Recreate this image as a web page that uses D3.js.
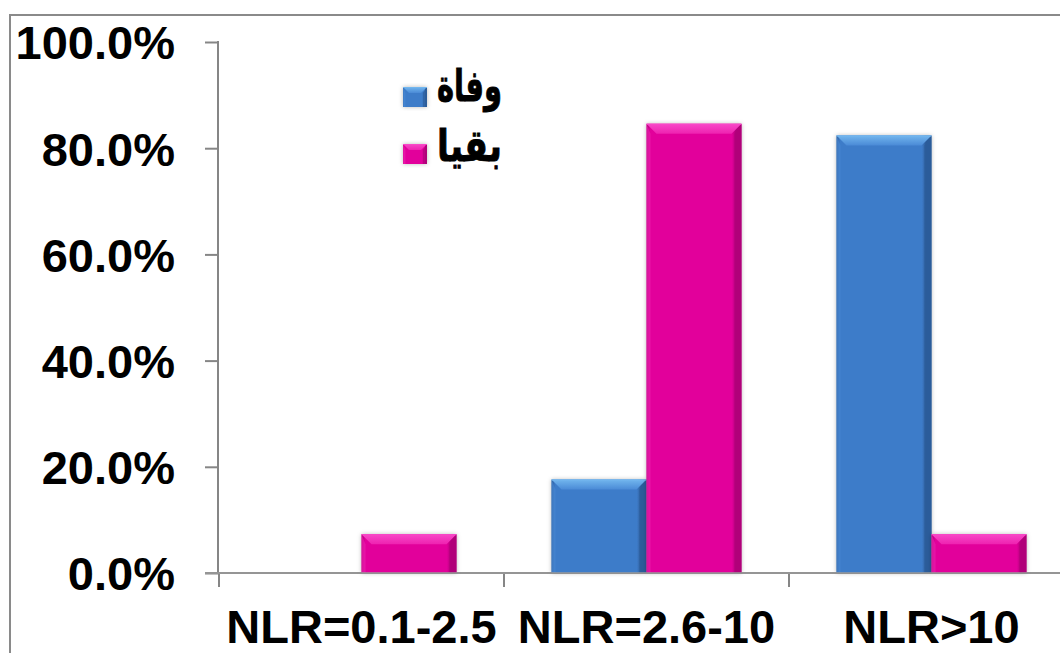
<!DOCTYPE html>
<html>
<head>
<meta charset="utf-8">
<script src="https://cdn.jsdelivr.net/npm/d3@7"></script>
<style>
  html, body { margin: 0; padding: 0; background: #fff; }
  svg { display: block; }
  .tick text { font-family: "Liberation Sans", Arial, sans-serif; font-weight: bold; fill: #000; }
</style>
</head>
<body>
<svg id="chart" width="1060" height="653"></svg>
<script>
// Outcome share by NLR group
const categories = ["NLR=0.1-2.5", "NLR=2.6-10", "NLR>10"];
const seriesNames = ["وفاة", "بقيا"];
const deathValues = [0, 17.6, 82.4];
const survivalValues = [7.3, 84.6, 7.3];
const yTicks = [0, 20, 40, 60, 80, 100];

const seriesColors = {
  "وفاة": { base: "#3E7CC9", light: "#72B6EE", dark: "#2C5C9A", edge: "#4A8AD6" },
  "بقيا": { base: "#E2069B", light: "#F848C8", dark: "#B0007A", edge: "#EE22B0" }
};

const svg = d3.select("#chart");

// Outer frame
svg.append("rect")
  .attr("x", 10).attr("y", 15)
  .attr("width", 1120).attr("height", 720)
  .attr("fill", "none")
  .attr("stroke", "#8a8a8a")
  .attr("stroke-width", 2);

const y = d3.scaleLinear().domain([0, 100]).range([573, 42]);
const x0 = d3.scaleBand().domain(categories).range([219, 1074]).padding(0);
const x1 = d3.scaleBand().domain(seriesNames)
  .range([x0.bandwidth() / 6, x0.bandwidth() * 5 / 6]).padding(0);

const defs = svg.append("defs");
const shadow = defs.append("filter").attr("id", "barShadow")
  .attr("x", "-20%").attr("y", "-20%").attr("width", "140%").attr("height", "140%");
shadow.append("feDropShadow")
  .attr("dx", 0).attr("dy", 0).attr("stdDeviation", 2.2)
  .attr("flood-color", "#000").attr("flood-opacity", 0.28);

// Gradients for the bevelled sides
seriesNames.forEach((s, i) => {
  const c = seriesColors[s];
  const g = defs.append("linearGradient").attr("id", "body" + i)
    .attr("x1", 0).attr("x2", 1).attr("y1", 0).attr("y2", 0);
  g.append("stop").attr("offset", 0).attr("stop-color", c.dark);
  g.append("stop").attr("offset", 0.04).attr("stop-color", c.base);
  g.append("stop").attr("offset", 0.9).attr("stop-color", c.base);
  g.append("stop").attr("offset", 0.94).attr("stop-color", c.dark);
  g.append("stop").attr("offset", 1).attr("stop-color", c.dark);
  const t = defs.append("linearGradient").attr("id", "top" + i)
    .attr("x1", 0).attr("x2", 0).attr("y1", 0).attr("y2", 1);
  t.append("stop").attr("offset", 0).attr("stop-color", c.light);
  t.append("stop").attr("offset", 1).attr("stop-color", c.edge);
});

const rows = categories.map((cat, i) => ({
  cat,
  vals: [
    { s: seriesNames[0], idx: 0, v: deathValues[i] },
    { s: seriesNames[1], idx: 1, v: survivalValues[i] }
  ]
}));

// Axes
const yAxis = d3.axisLeft(y).tickValues(yTicks)
  .tickFormat(d => d3.format(".1f")(d) + "%")
  .tickSize(13).tickPadding(30);
const yG = svg.append("g").attr("transform", "translate(218,0)").call(yAxis);
yG.select(".domain").remove();
yG.selectAll(".tick line").attr("stroke", "#868686").attr("stroke-width", 2);
yG.selectAll(".tick text").attr("font-size", 47).attr("dy", "0.36em");
svg.append("line").attr("x1", 218).attr("x2", 218).attr("y1", 41).attr("y2", 574)
  .attr("stroke", "#868686").attr("stroke-width", 2);

const boundaries = categories.map(c => x0(c)).concat([x0.range()[1]]);
svg.append("line").attr("x1", 205).attr("x2", 1100).attr("y1", 573).attr("y2", 573)
  .attr("stroke", "#868686").attr("stroke-width", 2);
svg.selectAll(".xtick").data(boundaries).join("line")
  .attr("class", "xtick")
  .attr("x1", d => d).attr("x2", d => d)
  .attr("y1", 573).attr("y2", 587)
  .attr("stroke", "#868686").attr("stroke-width", 2);
svg.selectAll(".xlabel").data(categories).join("text")
  .attr("class", "xlabel")
  .attr("x", d => x0(d) + x0.bandwidth() / 2)
  .attr("y", 643)
  .attr("text-anchor", "middle")
  .attr("font-family", "'Liberation Sans', Arial, sans-serif")
  .attr("font-weight", "bold")
  .attr("font-size", 47)
  .attr("fill", "#000")
  .text(d => d);

// Bars
function drawBevelBar(g, bx, by, bw, bh, idx, bevel) {
  const c = seriesColors[seriesNames[idx]];
  g.append("rect").attr("x", bx).attr("y", by).attr("width", bw).attr("height", bh)
    .attr("fill", `url(#body${idx})`).attr("filter", "url(#barShadow)");
  const b = Math.min(bevel, bh / 2);
  // top bevel
  g.append("path")
    .attr("d", `M${bx},${by} L${bx + bw},${by} L${bx + bw - b},${by + b} L${bx + b},${by + b} Z`)
    .attr("fill", `url(#top${idx})`);
  // left bevel
  g.append("path")
    .attr("d", `M${bx},${by} L${bx + b * 0.4},${by + b} L${bx + b * 0.4},${by + bh} L${bx},${by + bh} Z`)
    .attr("fill", c.edge).attr("opacity", 0.6);
  // right bevel
  g.append("path")
    .attr("d", `M${bx + bw},${by} L${bx + bw - b * 0.7},${by + b} L${bx + bw - b * 0.7},${by + bh} L${bx + bw},${by + bh} Z`)
    .attr("fill", c.dark).attr("opacity", 0.75);
  // highlight line on top edge
  g.append("line").attr("x1", bx).attr("x2", bx + bw).attr("y1", by + 0.5).attr("y2", by + 0.5)
    .attr("stroke", c.light).attr("stroke-width", 1);
}

const barLayer = svg.append("g");
rows.forEach(r => {
  r.vals.forEach(d => {
    if (d.v <= 0) return;
    const bx = x0(r.cat) + x1(d.s);
    const by = y(d.v);
    const bh = y(0) - by;
    drawBevelBar(barLayer.append("g"), bx, by, x1.bandwidth(), bh, d.idx, 10);
  });
});

// axis baseline over the bar bottoms
svg.append("line").attr("x1", 205).attr("x2", 1100).attr("y1", 573).attr("y2", 573)
  .attr("stroke", "#9a9a9a").attr("stroke-width", 1.5);

// Legend: swatch on the left, Arabic label fitted into the space to its right
const legendY = [97, 154];
const legendTextBaseline = [101, 161];
const legendTextLeft = 437, legendTextWidth = 65;
const legend = svg.append("g");
seriesNames.forEach((s, i) => {
  const g = legend.append("g");
  drawBevelBar(g, 403, legendY[i] - 10, 24, 20, i, 6);
  const t = g.append("text")
    .attr("x", 0).attr("y", 0)
    .attr("text-anchor", "start")
    .attr("font-family", "'DejaVu Sans', sans-serif")
    .attr("font-weight", "bold")
    .attr("font-size", 44)
    .attr("fill", "#000")
    .attr("stroke", "#000")
    .attr("stroke-width", 0.9)
    .text(s);
  const w = t.node().getComputedTextLength() || legendTextWidth;
  const sx = legendTextWidth / w;
  t.attr("transform", `translate(${legendTextLeft},${legendTextBaseline[i]}) scale(${sx},1)`);
});
</script>
</body>
</html>
